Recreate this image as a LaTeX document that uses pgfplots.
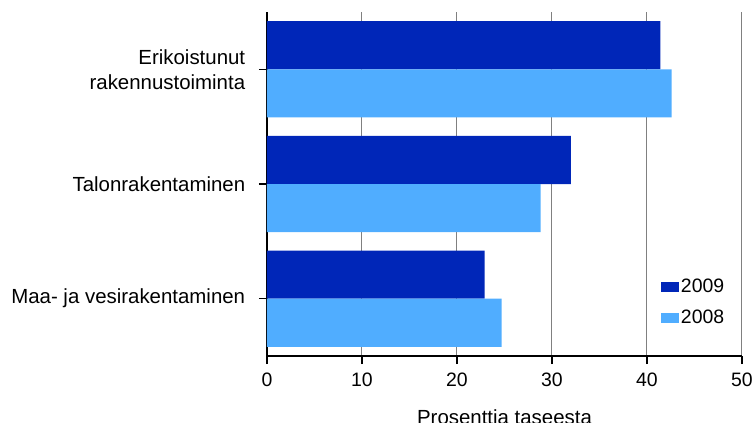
\documentclass[border=0pt]{standalone}
\usepackage{fontspec}
\setmainfont{Liberation Sans}
\usepackage{pgfplots}
\pgfplotsset{compat=1.18}
\definecolor{c2009}{RGB}{0,38,184}
\definecolor{c2008}{RGB}{80,173,255}
\begin{document}
\fontsize{20}{25}\selectfont
\begin{tikzpicture}
\begin{axis}[
    at={(0,0)}, anchor=south west,
    scale only axis, width=475bp, height=344bp,
    xbar, bar width=0.42,
    xmin=0, xmax=50, ymin=-0.5, ymax=2.5,
    xtick={0,10,20,30,40,50},
    ytick={0,1,2},
    yticklabels={Maa- ja vesirakentaminen, Talonrakentaminen, {Erikoistunut\\rakennustoiminta}},
    yticklabel style={align=right, font=\fontsize{20.5}{25}\selectfont, xshift=-7bp},
    xticklabel style={font=\fontsize{19.5}{22}\selectfont, yshift=-2bp},
    /pgf/number format/assume math mode=true,
    tick align=outside, major tick length=8bp,
    tick style={black, line width=1.2bp},
    axis x line*=bottom, axis y line*=left,
    axis line style={black, line width=1.3bp, -},
    xmajorgrids, grid style={gray, line width=1bp},
    xlabel={Prosenttia taseesta},
    xlabel style={at={(axis description cs:0.5,0)}, anchor=north, yshift=-53bp, inner sep=0pt,
        font=\fontsize{20.5}{24}\selectfont},
    legend style={at={(rel axis cs:0.829,0.23)}, anchor=north west, draw=none, fill=none,
        font=\fontsize{19.5}{22}\selectfont, row sep=10bp, inner sep=0pt},
    legend cell align=left,
    legend image code/.code={\fill[#1] (0bp,-5bp) rectangle (18bp,5bp);},
]
\addplot[fill=c2009, draw=none, bar shift=0.21] coordinates {(22.9,0) (32.0,1) (41.4,2)};
\addlegendentry{2009}
\addplot[fill=c2008, draw=none, bar shift=-0.21] coordinates {(24.7,0) (28.8,1) (42.6,2)};
\addlegendentry{2008}
\end{axis}
\pgfresetboundingbox
\path[use as bounding box] (-267bp,-67bp) rectangle (488bp,356bp);
\end{tikzpicture}
\end{document}
